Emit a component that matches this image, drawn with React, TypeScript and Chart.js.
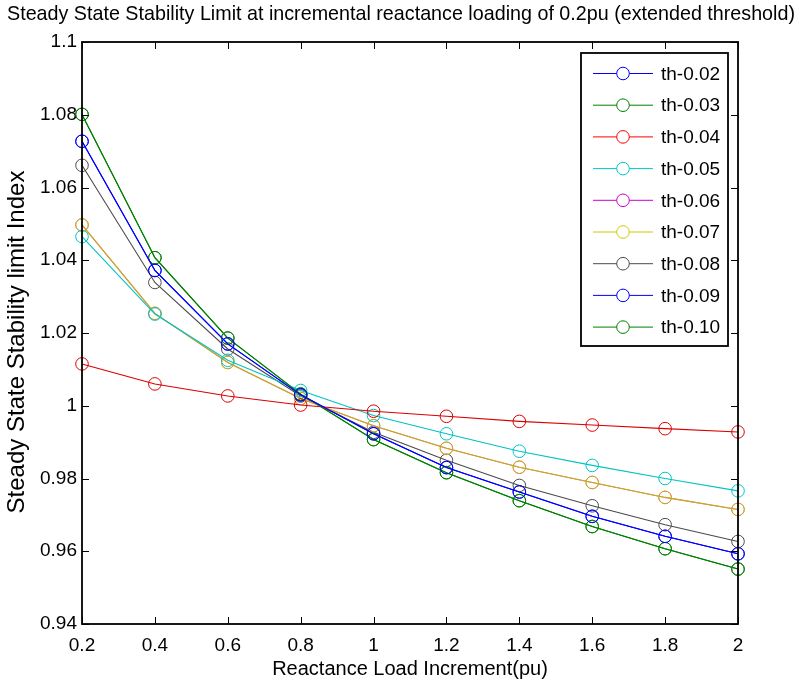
import React, { useEffect, useRef } from "react";
import { Chart, registerables } from "chart.js";

Chart.register(...registerables);

const TITLE = "Steady State Stability Limit at incremental reactance loading of 0.2pu (extended threshold)";
const X_LABEL = "Reactance Load Increment(pu)";
const Y_LABEL = "Steady State Stability limit Index";

const xValues = [0.2, 0.4, 0.6, 0.8, 1.0, 1.2, 1.4, 1.6, 1.8, 2.0];

const th002 = [1.0727, 1.0372, 1.017, 1.003, 0.9923, 0.983, 0.9763, 0.9696, 0.9641, 0.9593];
const th003 = [1.0801, 1.0407, 1.0186, 1.0032, 0.9907, 0.9816, 0.9739, 0.9668, 0.9607, 0.9551];
const th004 = [1.0115, 1.006, 1.0027, 1.0002, 0.9985, 0.9971, 0.9957, 0.9947, 0.9937, 0.9928];
const th005 = [1.0465, 1.0252, 1.0125, 1.0042, 0.9973, 0.9923, 0.9875, 0.9836, 0.98, 0.9766];
const th006 = [1.0497, 1.0254, 1.0119, 1.002, 0.9945, 0.9883, 0.9831, 0.9789, 0.9748, 0.9715];
const th007 = [1.0497, 1.0254, 1.0119, 1.002, 0.9945, 0.9883, 0.9831, 0.9789, 0.9748, 0.9715];
const th008 = [1.0661, 1.0339, 1.0156, 1.0027, 0.9927, 0.985, 0.9781, 0.9725, 0.9673, 0.9627];
const th009 = [1.0727, 1.0372, 1.017, 1.003, 0.9923, 0.983, 0.9763, 0.9696, 0.9641, 0.9593];
const th010 = [1.0801, 1.0407, 1.0186, 1.0032, 0.9907, 0.9816, 0.9739, 0.9668, 0.9607, 0.9551];

const seriesNames = ["th-0.02", "th-0.03", "th-0.04", "th-0.05", "th-0.06", "th-0.07", "th-0.08", "th-0.09", "th-0.10"];
const seriesValues = [th002, th003, th004, th005, th006, th007, th008, th009, th010];
// colour seen in the plot (magenta and yellow overlap into a golden tone)
const plotColors = [
  "rgb(0,0,255)",
  "rgb(0,128,0)",
  "rgb(220,0,0)",
  "rgb(0,195,195)",
  "rgb(205,160,55)",
  "rgb(205,160,55)",
  "rgb(75,75,75)",
  "rgb(0,0,255)",
  "rgb(0,128,0)",
];
// colour shown in the legend
const legendColors = [
  "rgb(0,0,255)",
  "rgb(0,128,0)",
  "rgb(255,0,0)",
  "rgb(0,200,200)",
  "rgb(204,0,204)",
  "rgb(204,204,0)",
  "rgb(75,75,75)",
  "rgb(0,0,255)",
  "rgb(0,128,0)",
];

const FONT = '"Liberation Sans", Arial, Helvetica, sans-serif';

const textPlugin = {
  id: "texts",
  afterDraw(chart: any) {
    const ctx = chart.ctx;
    ctx.save();
    ctx.fillStyle = "#000";
    ctx.textAlign = "center";
    ctx.textBaseline = "middle";
    // title, condensed to fit width
    ctx.font = `21px ${FONT}`;
    const w = ctx.measureText(TITLE).width;
    const target = 788;
    ctx.save();
    ctx.translate(401, 14);
    ctx.scale(target / w, 1);
    ctx.fillText(TITLE, 0, 0);
    ctx.restore();
    // y axis label
    ctx.save();
    ctx.font = `24px ${FONT}`;
    ctx.translate(17, 342);
    ctx.rotate(-Math.PI / 2);
    ctx.fillText(Y_LABEL, 0, 0);
    ctx.restore();
    ctx.restore();
  },
};

const framePlugin = {
  id: "frame",
  afterDraw(chart: any) {
    const ctx = chart.ctx;
    const { left, right, top, bottom } = chart.chartArea;
    const xs = chart.scales.x;
    const ys = chart.scales.y;
    ctx.save();
    ctx.strokeStyle = "#000";
    ctx.lineWidth = 1;
    const tl = 7;
    ctx.beginPath();
    xs.ticks.forEach((t: any) => {
      const px = Math.round(xs.getPixelForValue(t.value)) + 0.5;
      ctx.moveTo(px, bottom);
      ctx.lineTo(px, bottom - tl);
      ctx.moveTo(px, top);
      ctx.lineTo(px, top + tl);
    });
    ys.ticks.forEach((t: any) => {
      const py = Math.round(ys.getPixelForValue(t.value)) + 0.5;
      ctx.moveTo(left, py);
      ctx.lineTo(left + tl, py);
      ctx.moveTo(right, py);
      ctx.lineTo(right - tl, py);
    });
    ctx.stroke();
    ctx.lineWidth = 1.8;
    ctx.strokeRect(left, top, right - left, bottom - top);

    // legend box
    const bx = right - 157;
    const by = top + 11;
    const bw = 147;
    const bh = 293;
    ctx.fillStyle = "#fff";
    ctx.fillRect(bx, by, bw, bh);
    ctx.lineWidth = 1.8;
    ctx.strokeRect(bx, by, bw, bh);
    ctx.font = `19px ${FONT}`;
    ctx.textAlign = "left";
    ctx.textBaseline = "middle";
    seriesNames.forEach((name, i) => {
      const cy = by + 20.5 + i * 31.7;
      ctx.strokeStyle = legendColors[i];
      ctx.lineWidth = 1;
      ctx.beginPath();
      ctx.moveTo(bx + 12, cy);
      ctx.lineTo(bx + 72, cy);
      ctx.stroke();
      ctx.fillStyle = "#fff";
      ctx.beginPath();
      ctx.arc(bx + 42, cy, 6.3, 0, Math.PI * 2);
      ctx.fill();
      ctx.stroke();
      ctx.fillStyle = "#000";
      ctx.fillText(name, bx + 80, cy + 1);
    });
    ctx.restore();
  },
};

export default function App() {
  const ref = useRef<HTMLCanvasElement | null>(null);

  useEffect(() => {
    if (!ref.current) return;
    const datasets = seriesNames.map((name, i) => ({
      label: name,
      data: xValues.map((x, j) => ({ x, y: seriesValues[i][j] })),
      borderColor: plotColors[i],
      backgroundColor: "rgba(0,0,0,0)",
      pointBorderColor: plotColors[i],
      pointBackgroundColor: "rgba(0,0,0,0)",
      pointRadius: 6.3,
      pointBorderWidth: 1,
      borderWidth: 1.1,
      tension: 0,
      clip: false as any,
    }));

    const chart = new Chart(ref.current, {
      type: "line",
      data: { datasets },
      options: {
        animation: false,
        responsive: false,
        devicePixelRatio: 1,
        layout: { padding: { top: 42, right: 63, bottom: 0, left: 0 } },
        plugins: {
          legend: { display: false },
          title: { display: false },
          tooltip: { enabled: false },
        },
        scales: {
          x: {
            type: "linear",
            min: 0.2,
            max: 2,
            grid: { display: false, drawTicks: false },
            border: { display: false },
            ticks: {
              stepSize: 0.2,
              padding: 10,
              color: "#000",
              font: { family: FONT, size: 19 },
              maxRotation: 0,
              callback: (v: any) => String(Number(Number(v).toFixed(1))),
            },
            title: {
              display: true,
              text: X_LABEL,
              color: "#000",
              font: { family: FONT, size: 20 },
              padding: { top: 0, bottom: 7 },
            },
            afterFit: (s: any) => {
              s.height = 64;
            },
          },
          y: {
            type: "linear",
            min: 0.94,
            max: 1.1,
            grid: { display: false, drawTicks: false },
            border: { display: false },
            ticks: {
              stepSize: 0.02,
              padding: 5,
              color: "#000",
              font: { family: FONT, size: 19 },
              callback: (v: any) => String(Number(Number(v).toFixed(2))),
            },
            title: { display: false },
            afterFit: (s: any) => {
              s.width = 82;
            },
          },
        },
      },
      plugins: [textPlugin, framePlugin],
    });
    return () => chart.destroy();
  }, []);

  return (
    <div style={{ position: "fixed", left: 0, top: 0, width: 801, height: 688, background: "#fff" }}>
      <canvas ref={ref} width={801} height={688} style={{ display: "block" }} />
    </div>
  );
}
